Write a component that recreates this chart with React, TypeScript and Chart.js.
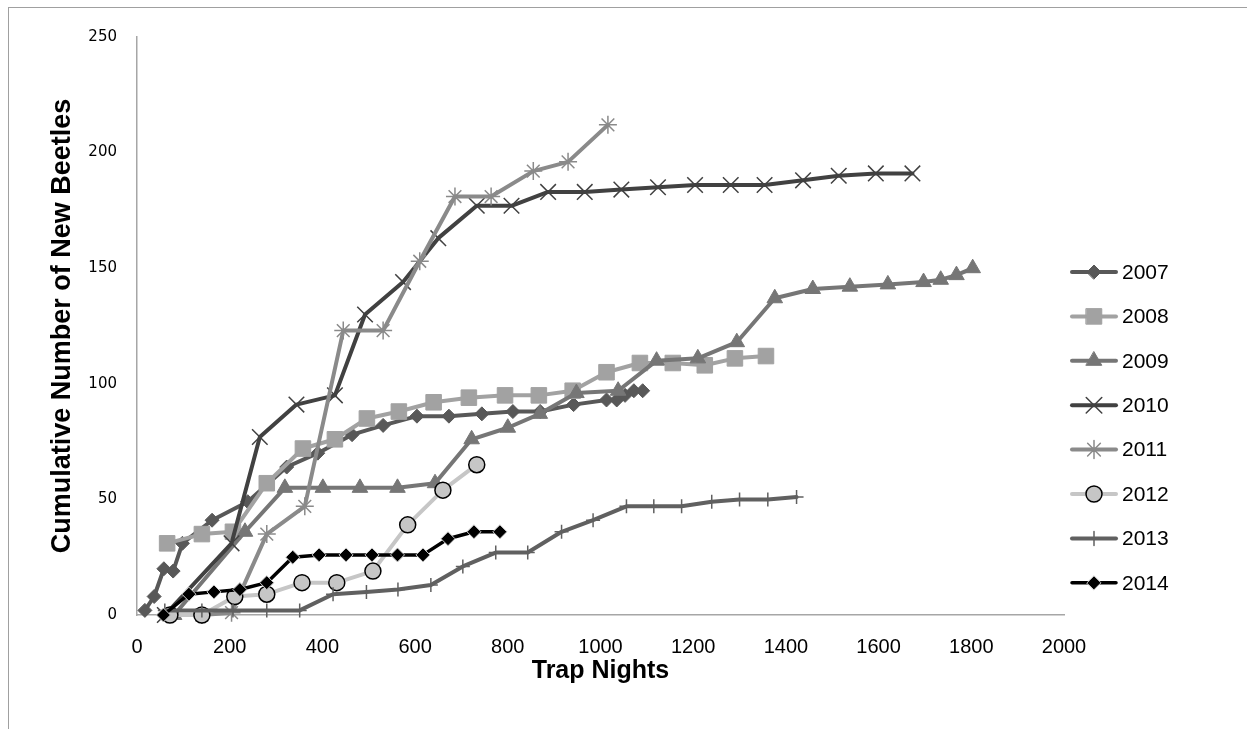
import React, { useEffect, useRef } from 'react';
import { Chart, registerables } from 'chart.js';
import { drawPoint } from 'chart.js/helpers';

Chart.register(...registerables);

// ---- data (trap nights, cumulative beetles) ----
const x2007 = [17, 37, 58, 78, 98, 162, 239, 323, 390, 464, 531, 604, 673, 744, 811, 870, 942, 1013, 1035, 1053, 1072, 1091];
const y2007 = [2, 8, 20, 19, 31, 41, 49, 64, 70, 78, 82, 86, 86, 87, 88, 88, 91, 93, 93, 95, 97, 97];

const x2008 = [65, 140, 207, 280, 358, 427, 496, 565, 640, 716, 794, 867, 940, 1013, 1085, 1156, 1225, 1290, 1357];
const y2008 = [31, 35, 36, 57, 72, 76, 85, 88, 92, 94, 95, 95, 97, 105, 109, 109, 108, 111, 112];

const x2009 = [80, 233, 319, 401, 481, 562, 643, 722, 800, 869, 948, 1038, 1121, 1210, 1294, 1376, 1458, 1538, 1620, 1697, 1734, 1768, 1803];
const y2009 = [0, 36, 55, 55, 55, 55, 57, 76, 81, 87, 96, 97, 110, 111, 118, 137, 141, 142, 143, 144, 145, 147, 150];

const x2010 = [60, 204, 265, 344, 427, 492, 574, 650, 733, 808, 887, 966, 1045, 1124, 1204, 1281, 1354, 1437, 1514, 1594, 1673];
const y2010 = [0, 31, 77, 91, 95, 130, 144, 163, 177, 177, 183, 183, 184, 185, 186, 186, 186, 188, 190, 191, 191];

const x2011 = [140, 204, 280, 362, 445, 531, 610, 686, 764, 855, 930, 1016];
const y2011 = [0, 1, 35, 47, 123, 123, 153, 181, 181, 192, 196, 212];

const x2012 = [71, 140, 211, 280, 356, 431, 509, 584, 660, 733];
const y2012 = [0, 0, 8, 9, 14, 14, 19, 39, 54, 65];

const x2013 = [60, 140, 207, 280, 351, 423, 495, 563, 634, 703, 774, 843, 916, 984, 1056, 1115, 1175, 1240, 1300, 1361, 1423];
const y2013 = [2, 2, 2, 2, 2, 9, 10, 11, 13, 21, 27, 27, 36, 41, 47, 47, 47, 49, 50, 50, 51];

const x2014 = [57, 112, 166, 222, 280, 336, 393, 451, 507, 562, 617, 671, 727, 783];
const y2014 = [0, 9, 10, 11, 14, 25, 26, 26, 26, 26, 26, 33, 36, 36];

const seriesNames = ['2007', '2008', '2009', '2010', '2011', '2012', '2013', '2014'];
const xTicks = [0, 200, 400, 600, 800, 1000, 1200, 1400, 1600, 1800, 2000];
const yTicks = [0, 50, 100, 150, 200, 250];

const xTitle = 'Trap Nights';
const yTitle = 'Cumulative Number of New Beetles';

const xs = [x2007, x2008, x2009, x2010, x2011, x2012, x2013, x2014];
const ys = [y2007, y2008, y2009, y2010, y2011, y2012, y2013, y2014];

type Style = {
  line: string;
  fill: string;
  stroke: string;
  shape: string;
  radius: number;
  pbw: number;
  width: number;
};

const styles: Style[] = [
  { line: '#585858', fill: '#585858', stroke: '#585858', shape: 'rectRot', radius: 7, pbw: 1, width: 4 },
  { line: '#a2a2a2', fill: '#a2a2a2', stroke: '#a2a2a2', shape: 'rect', radius: 11, pbw: 1, width: 4 },
  { line: '#767676', fill: '#767676', stroke: '#767676', shape: 'triangle', radius: 9, pbw: 1, width: 4 },
  { line: '#414141', fill: '#414141', stroke: '#414141', shape: 'crossRot', radius: 11, pbw: 1.5, width: 4 },
  { line: '#8a8a8a', fill: '#8a8a8a', stroke: '#8a8a8a', shape: 'star', radius: 9, pbw: 1.5, width: 4 },
  { line: '#c6c6c6', fill: '#c6c6c6', stroke: '#000000', shape: 'circle', radius: 8, pbw: 1.5, width: 4 },
  { line: '#606060', fill: '#606060', stroke: '#606060', shape: 'cross', radius: 7, pbw: 1.5, width: 4 },
  { line: '#000000', fill: '#000000', stroke: '#d0d0d0', shape: 'rectRot', radius: 7, pbw: 1, width: 3.5 },
];

const CANVAS_W = 1238;
const CANVAS_H = 721;

const legendPlugin = {
  id: 'excelLegend',
  afterDraw(chart: any) {
    const ctx = chart.ctx as CanvasRenderingContext2D;
    const top = 264;
    const gap = 44.4;
    const x0 = 1063;
    const x1 = 1107;
    const xm = 1085;
    const xt = 1113;
    chart.data.datasets.forEach((ds: any, i: number) => {
      const y = top + i * gap;
      ctx.save();
      ctx.strokeStyle = ds.borderColor;
      ctx.lineWidth = ds.borderWidth;
      ctx.lineCap = 'round';
      ctx.beginPath();
      ctx.moveTo(x0, y);
      ctx.lineTo(x1, y);
      ctx.stroke();
      ctx.fillStyle = ds.pointBackgroundColor;
      ctx.strokeStyle = ds.pointBorderColor;
      ctx.lineWidth = ds.pointBorderWidth;
      drawPoint(ctx, { pointStyle: ds.pointStyle, rotation: 0, radius: ds.pointRadius, borderWidth: ds.pointBorderWidth } as any, xm, y);
      ctx.fillStyle = '#000';
      ctx.font = '21px "Liberation Sans", sans-serif';
      ctx.textAlign = 'left';
      ctx.textBaseline = 'middle';
      ctx.fillText(ds.label, xt, y + 1);
      ctx.restore();
    });
  },
};

export default function App() {
  const ref = useRef<HTMLCanvasElement | null>(null);

  useEffect(() => {
    if (!ref.current) return;
    const datasets = seriesNames.map((name, i) => {
      const s = styles[i];
      return {
        label: name,
        data: xs[i].map((x, j) => ({ x, y: ys[i][j] })),
        borderColor: s.line,
        backgroundColor: s.fill,
        borderWidth: s.width,
        borderCapStyle: 'round',
        borderJoinStyle: 'round',
        pointStyle: s.shape,
        pointRadius: s.radius,
        pointBackgroundColor: s.fill,
        pointBorderColor: s.stroke,
        pointBorderWidth: s.pbw,
        pointHoverRadius: s.radius,
        tension: 0,
        fill: false,
        clip: false,
        order: seriesNames.length - i,
      };
    });

    const chart = new Chart(ref.current, {
      type: 'line',
      data: { datasets } as any,
      plugins: [legendPlugin],
      options: {
        animation: false,
        responsive: false,
        devicePixelRatio: 1,
        layout: { padding: { left: 0, top: 24, right: 183, bottom: 34 } },
        plugins: {
          legend: { display: false },
          tooltip: { enabled: false },
          title: { display: false },
        },
        scales: {
          x: {
            type: 'linear',
            min: 0,
            max: 2000,
            afterFit: (scale: any) => {
              scale.height = 80;
            },
            afterBuildTicks: (scale: any) => {
              scale.ticks = xTicks.map((v) => ({ value: v }));
            },
            grid: { display: false, drawTicks: false },
            border: { display: true, color: '#a6a6a6', width: 1.5 },
            ticks: {
              padding: 20,
              color: '#000',
              maxRotation: 0,
              callback: (v: any) => String(v),
              font: { family: '"Liberation Sans", sans-serif', size: 20 },
            },
            title: {
              display: true,
              text: xTitle,
              color: '#000',
              padding: { top: 0, bottom: 9 },
              font: { family: '"Liberation Sans", sans-serif', size: 25, weight: 'bold' },
            },
          },
          y: {
            type: 'linear',
            min: 0,
            max: 250,
            afterFit: (scale: any) => {
              scale.width = 128;
            },
            afterBuildTicks: (scale: any) => {
              scale.ticks = yTicks.map((v) => ({ value: v }));
            },
            grid: { display: false, drawTicks: false },
            border: { display: true, color: '#a6a6a6', width: 1.5 },
            ticks: {
              padding: 20,
              color: '#000',
              callback: (v: any) => String(v),
              font: { family: '"DejaVu Sans", sans-serif', size: 15 },
            },
            title: {
              display: true,
              text: yTitle,
              color: '#000',
              padding: { top: 37, bottom: 0 },
              font: { family: '"Liberation Sans", sans-serif', size: 27, weight: 'bold' },
            },
          },
        },
      } as any,
    });
    return () => chart.destroy();
  }, []);

  return (
    <div
      style={{
        position: 'fixed',
        left: 8,
        top: 7,
        width: CANVAS_W + 1,
        height: CANVAS_H + 1,
        borderTop: '1px solid #a0a0a0',
        borderLeft: '1px solid #a0a0a0',
        boxSizing: 'border-box',
        background: '#fff',
        overflow: 'hidden',
      }}
    >
      <canvas
        ref={ref}
        width={CANVAS_W}
        height={CANVAS_H}
        style={{ display: 'block', width: CANVAS_W, height: CANVAS_H }}
      />
    </div>
  );
}
